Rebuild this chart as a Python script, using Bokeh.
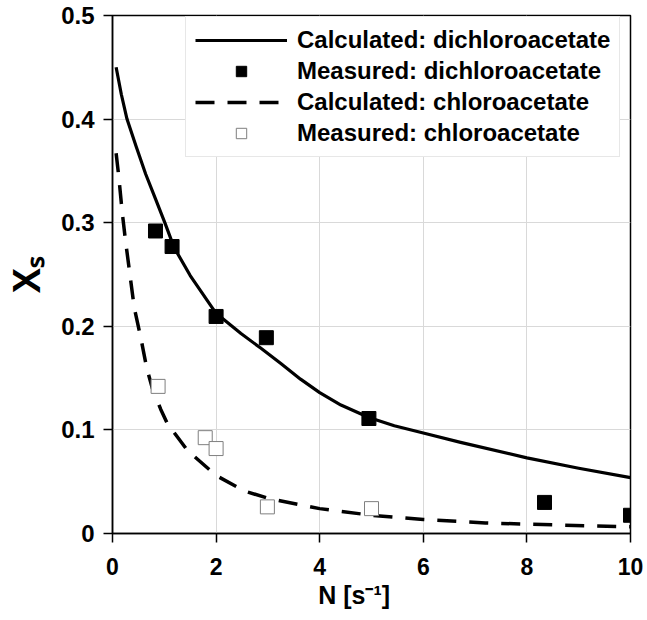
import math
from bokeh.plotting import figure
from bokeh.models import (Range1d, FixedTicker, Legend, LegendItem,
                          CustomJSTickFormatter)
from bokeh.embed import file_html
from bokeh.resources import INLINE

# ---- data ----
calc_dca_n = [0.07, 0.17, 0.28, 0.46, 0.64, 0.83, 1.01, 1.19, 1.5, 2.0, 2.48,
              2.86, 3.25, 3.63, 4.0, 4.41, 4.95, 5.44, 6.0, 6.72, 8.0, 9.0, 10.0]
calc_dca_x = [0.450, 0.424, 0.400, 0.373, 0.347, 0.323, 0.300, 0.276, 0.249,
              0.2125, 0.193, 0.179, 0.164, 0.149, 0.136, 0.124, 0.112, 0.104,
              0.097, 0.088, 0.073, 0.063, 0.054]

meas_dca_n = [0.83, 1.15, 2.0, 2.97, 4.95, 8.34, 10.0]
meas_dca_x = [0.292, 0.277, 0.2095, 0.189, 0.111, 0.030, 0.0176]

calc_ca_n = [0.07, 0.12, 0.19, 0.25, 0.42, 0.55, 0.66, 0.77, 0.93, 1.06, 1.45,
             2.0, 2.55, 3.0, 4.0, 5.0, 6.0, 7.2, 8.0, 10.0]
calc_ca_x = [0.367, 0.345, 0.309, 0.283, 0.218, 0.188, 0.160, 0.140, 0.120,
             0.106, 0.080, 0.056, 0.041, 0.034, 0.024, 0.0176, 0.0135, 0.0102,
             0.009, 0.0064]

meas_ca_n = [0.88, 1.79, 2.0, 2.99, 5.0]
meas_ca_x = [0.142, 0.0925, 0.082, 0.0257, 0.024]

x_ticks = [0, 2, 4, 6, 8, 10]
y_ticks = [0, 0.1, 0.2, 0.3, 0.4, 0.5]

x_title = "N [s\u207b\u00b9]"
y_title = "X\u209b"

legend_labels = ["Calculated: dichloroacetate", "Measured: dichloroacetate",
                 "Calculated: chloroacetate", "Measured: chloroacetate"]

FONT = "Liberation Sans"

p = figure(width=647, height=620, output_backend="svg", toolbar_location=None,
           x_range=Range1d(0, 10), y_range=Range1d(0, 0.5),
           min_border_left=112, min_border_right=17, min_border_top=15,
           min_border_bottom=87)
p.background_fill_color = "white"
p.border_fill_color = "white"
p.outline_line_color = "black"
p.outline_line_width = 1.5

# grid
p.xgrid.ticker = FixedTicker(ticks=x_ticks)
p.ygrid.ticker = FixedTicker(ticks=y_ticks)
for g in (p.xgrid, p.ygrid):
    g.grid_line_color = "#d9d9d9"
    g.grid_line_width = 1

# axes
for ax in (p.xaxis[0], p.yaxis[0]):
    ax.axis_line_color = "black"
    ax.axis_line_width = 1.5
    ax.major_tick_line_color = "black"
    ax.major_tick_line_width = 1.5
    ax.major_tick_out = 9
    ax.major_tick_in = 0
    ax.minor_tick_line_color = None
    ax.major_label_text_font = FONT
    ax.major_label_text_font_style = "bold"
    ax.major_label_text_color = "black"
    ax.axis_label_text_font = FONT
    ax.axis_label_text_font_style = "bold"
    ax.axis_label_text_color = "black"
p.xaxis[0].ticker = FixedTicker(ticks=x_ticks)
p.yaxis[0].ticker = FixedTicker(ticks=y_ticks)
p.xaxis[0].major_label_text_font_size = "23px"
p.yaxis[0].major_label_text_font_size = "24px"
p.xaxis[0].major_label_standoff = 15
p.yaxis[0].major_label_standoff = 9
p.yaxis[0].formatter = CustomJSTickFormatter(
    code="var s = tick.toFixed(1); return s === '0.0' ? '0' : s;")

# axis titles (trailing no-break spaces nudge the x title left as in the source)
p.xaxis[0].axis_label = x_title + "\u00a0" * 5
p.xaxis[0].axis_label_text_font_size = "25px"
p.xaxis[0].axis_label_standoff = 3
p.yaxis[0].axis_label = y_title
p.yaxis[0].axis_label_text_font_size = "38px"
p.yaxis[0].axis_label_standoff = 10

# curves and points
r_calc_dca = p.line(calc_dca_n, calc_dca_x, line_color="black", line_width=3.2,
                    line_join="round")
r_calc_ca = p.line(calc_ca_n, calc_ca_x, line_color="black", line_width=3.5,
                   line_dash="19 13", line_join="round")
r_meas_ca = p.scatter(meas_ca_n, meas_ca_x, marker="square", size=14,
                      fill_color="white", line_color="#7f7f7f", line_width=1)
r_meas_dca = p.scatter(meas_dca_n, meas_dca_x, marker="square", size=14,
                       fill_color="black", line_color="black", line_width=1)

legend = Legend(items=[
    LegendItem(label=legend_labels[0], renderers=[r_calc_dca]),
    LegendItem(label=legend_labels[1], renderers=[r_meas_dca]),
    LegendItem(label=legend_labels[2], renderers=[r_calc_ca]),
    LegendItem(label=legend_labels[3], renderers=[r_meas_ca]),
], location=(73, 376))
legend.label_text_font = FONT
legend.label_text_font_style = "bold"
legend.label_text_font_size = "24px"
legend.label_text_color = "black"
legend.border_line_color = "#d0d0d0"
legend.border_line_width = 1
legend.background_fill_color = "white"
legend.background_fill_alpha = 1
legend.padding = 9
legend.spacing = 3
legend.margin = 0
legend.glyph_width = 92
legend.glyph_height = 26
legend.label_height = 26
legend.label_standoff = 10
p.add_layout(legend, "center")

open("out.html", "w").write(file_html(p, INLINE))
